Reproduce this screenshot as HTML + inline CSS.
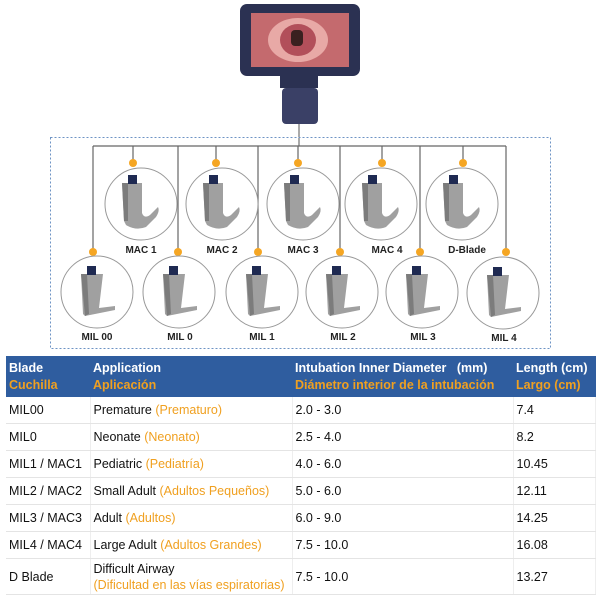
<!DOCTYPE html>
<html><head><meta charset="utf-8"><style>
body{margin:0;width:600px;height:600px;background:#fff;overflow:hidden;font-family:"Liberation Sans",sans-serif;position:relative}
svg{position:absolute;left:0;top:0}
table{position:absolute;left:6px;top:356px;width:590px;border-collapse:collapse;font-size:12.5px;color:#111}
td{padding:0 0 0 3px;border-bottom:1px solid #e4e4e4;border-right:1px solid #eee;height:26px;white-space:nowrap}
tr.h td{background:#2f5d9f;color:#fff;font-weight:bold;height:41px;line-height:17px;border:none}
.o{color:#f0a020}
</style></head><body>
<svg width="600" height="356" viewBox="0 0 600 356">
<defs>
<g id="mac"><path d="M-14,-22 L6,-22 L6,8 Q8,14 14,10 L22,2 Q24,6 20,12 L10,22 Q0,26 -10,20 L-12,16 Z" fill="#a0a0a0"/><path d="M-14,-22 L-8,-22 L-8,16 L-12,16Z" fill="#7c7c7c"/><rect x="-8" y="-30" width="9" height="9" fill="#1f2a52"/></g>
<g id="mil"><path d="M-12,-20 L10,-20 L6,14 L22,12 L22,16 L-8,22 L-10,20 Z" fill="#a0a0a0"/><path d="M-12,-20 L-6,-20 L-4,20 L-8,22Z" fill="#7c7c7c"/><rect x="-6" y="-28" width="9" height="9" fill="#1f2a52"/></g>
</defs>
<rect x="240" y="4" width="120" height="72" rx="7" fill="#2b3152"/>
<rect x="251" y="13" width="98" height="54" fill="#c46a6e"/>
<ellipse cx="298" cy="40" rx="30" ry="22" fill="#e8a9a6"/>
<ellipse cx="298" cy="40" rx="18" ry="16" fill="#b24f5a"/>
<rect x="291" y="30" width="12" height="16" rx="4" fill="#3a2020"/>
<rect x="280" y="76" width="38" height="12" fill="#2b3152"/>
<rect x="282" y="88" width="36" height="36" rx="4" fill="#3a4066"/>
<line x1="299" y1="124" x2="299" y2="146" stroke="#555"/>
<rect x="50.5" y="137.5" width="500" height="211" fill="none" stroke="#6d93c4" stroke-dasharray="2,2"/>
<g stroke="#666" stroke-width="1.2" fill="none">
<path d="M93,146 H506"/>
<path d="M93,146 V252 M178,146 V252 M258,146 V252 M340,146 V252 M420,146 V252 M506,146 V252"/>
<path d="M133,146 V163 M216,146 V163 M298,146 V163 M382,146 V163 M463,146 V163"/>
</g>
<g fill="#f5a623">
<circle cx="93" cy="252" r="4"/><circle cx="178" cy="252" r="4"/><circle cx="258" cy="252" r="4"/><circle cx="340" cy="252" r="4"/><circle cx="420" cy="252" r="4"/><circle cx="506" cy="252" r="4"/>
<circle cx="133" cy="163" r="4"/><circle cx="216" cy="163" r="4"/><circle cx="298" cy="163" r="4"/><circle cx="382" cy="163" r="4"/><circle cx="463" cy="163" r="4"/>
</g>
<g fill="#fff" stroke="#999" stroke-width="1">
<circle cx="141" cy="204" r="36"/><circle cx="222" cy="204" r="36"/><circle cx="303" cy="204" r="36"/><circle cx="381" cy="204" r="36"/><circle cx="462" cy="204" r="36"/>
<circle cx="97" cy="292" r="36"/><circle cx="179" cy="292" r="36"/><circle cx="262" cy="292" r="36"/><circle cx="342" cy="292" r="36"/><circle cx="422" cy="292" r="36"/><circle cx="503" cy="293" r="36"/>
</g>
<use href="#mac" x="136" y="205"/><use href="#mac" x="217" y="205"/><use href="#mac" x="298" y="205"/><use href="#mac" x="376" y="205"/><use href="#mac" x="457" y="205"/>
<use href="#mil" x="93" y="294"/><use href="#mil" x="175" y="294"/><use href="#mil" x="258" y="294"/><use href="#mil" x="338" y="294"/><use href="#mil" x="418" y="294"/><use href="#mil" x="499" y="295"/>
<g font-family="Liberation Sans" font-weight="bold" font-size="10" text-anchor="middle" fill="#222">
<text x="141" y="253">MAC 1</text><text x="222" y="253">MAC 2</text><text x="303" y="253">MAC 3</text><text x="387" y="253">MAC 4</text><text x="467" y="253">D-Blade</text>
<text x="97" y="340">MIL 00</text><text x="180" y="340">MIL 0</text><text x="262" y="340">MIL 1</text><text x="343" y="340">MIL 2</text><text x="423" y="340">MIL 3</text><text x="504" y="341">MIL 4</text>
</g>
</svg>
<table>
<colgroup><col style="width:84px"><col style="width:202px"><col style="width:221px"><col></colgroup>
<tr class="h"><td>Blade<br><span class="o">Cuchilla</span></td><td>Application<br><span class="o">Aplicación</span></td><td>Intubation Inner Diameter &nbsp;&nbsp;(mm)<br><span class="o">Diámetro interior de la intubación</span></td><td>Length (cm)<br><span class="o">Largo (cm)</span></td></tr>
<tr><td>MIL00</td><td>Premature <span class="o">(Prematuro)</span></td><td>2.0 - 3.0</td><td>7.4</td></tr>
<tr><td>MIL0</td><td>Neonate <span class="o">(Neonato)</span></td><td>2.5 - 4.0</td><td>8.2</td></tr>
<tr><td>MIL1 / MAC1</td><td>Pediatric <span class="o">(Pediatría)</span></td><td>4.0 - 6.0</td><td>10.45</td></tr>
<tr><td>MIL2 / MAC2</td><td>Small Adult <span class="o">(Adultos Pequeños)</span></td><td>5.0 - 6.0</td><td>12.11</td></tr>
<tr><td>MIL3 / MAC3</td><td>Adult <span class="o">(Adultos)</span></td><td>6.0 - 9.0</td><td>14.25</td></tr>
<tr><td>MIL4 / MAC4</td><td>Large Adult <span class="o">(Adultos Grandes)</span></td><td>7.5 - 10.0</td><td>16.08</td></tr>
<tr><td style="height:35px">D Blade</td><td style="line-height:16px">Difficult Airway<br><span class="o">(Dificultad en las vías espiratorias)</span></td><td>7.5 - 10.0</td><td>13.27</td></tr>
</table>
</body></html>
